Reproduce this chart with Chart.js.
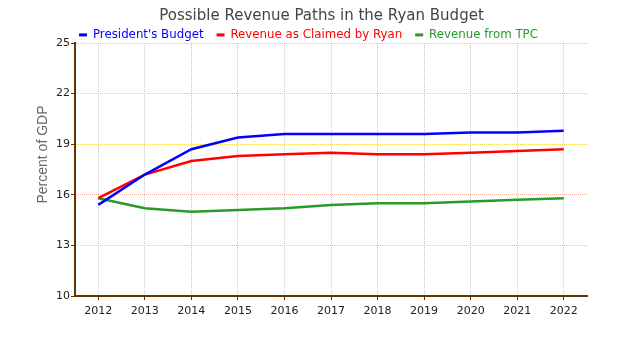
<!DOCTYPE html>
<html>
<head>
<meta charset="utf-8">
<script src="https://cdn.jsdelivr.net/npm/chart.js@4/dist/chart.umd.min.js"></script>
<style>
  html, body { margin: 0; padding: 0; background: #ffffff; }
  #wrap { width: 624px; height: 347px; }
</style>
</head>
<body>
<div id="wrap"><canvas id="c" width="624" height="347"></canvas></div>
<script>
// Revenue as percent of GDP, fiscal years 2012-2022
const years = [2012, 2013, 2014, 2015, 2016, 2017, 2018, 2019, 2020, 2021, 2022];
const presidentsBudget = [15.4, 17.2, 18.7, 19.4, 19.6, 19.6, 19.6, 19.6, 19.7, 19.7, 19.8];
const claimedByRyan    = [15.8, 17.2, 18.0, 18.3, 18.4, 18.5, 18.4, 18.4, 18.5, 18.6, 18.7];
const revenueFromTPC   = [15.8, 15.2, 15.0, 15.1, 15.2, 15.4, 15.5, 15.5, 15.6, 15.7, 15.8];
const yTicks = [10, 13, 16, 19, 22, 25];

const seriesNames  = ["President's Budget", "Revenue as Claimed by Ryan", "Revenue from TPC"];
const seriesColors = ['#0000ff', '#ff0000', '#2a9a2a'];
const yAxisTitle = 'Percent of GDP';

const toPoints = vals => vals.map((v, i) => ({ x: years[i], y: v }));

const gridYellow = '#ecd250';
const gridPink = '#f4ae9e';
const pinkYears = [2014, 2015, 2018, 2019, 2020];
const axisBrown = '#663300';

// Header layout: fixed band heights for title and legend, plus a sideways nudge
const header = {
  id: 'header',
  beforeLayout(chart) {
    if (chart.$headerPatched) return;
    chart.$headerPatched = true;
    const adjust = (box, dx, h) => {
      if (!box || typeof box.update !== 'function' || typeof box.draw !== 'function') return;
      const update = box.update.bind(box);
      box.update = function (...args) {
        const r = update(...args);
        this.height = h;
        return r;
      };
      const draw = box.draw.bind(box);
      box.draw = function (...args) {
        const ctx = this.ctx;
        ctx.save();
        ctx.translate(dx, 0);
        const r = draw(...args);
        ctx.restore();
        return r;
      };
    };
    adjust(chart.titleBlock, 28, 16);
    adjust(chart.legend, 15, 27);
  }
};

// Vertical axis caption, set a little above the middle of the plot
const yCaption = {
  id: 'yCaption',
  afterDraw(chart) {
    const ctx = chart.ctx;
    const area = chart.chartArea;
    ctx.save();
    ctx.translate(43.5, (area.top + area.bottom) / 2 - 15);
    ctx.rotate(-Math.PI / 2);
    ctx.fillStyle = '#666666';
    ctx.font = '14px "Liberation Sans"';
    ctx.textAlign = 'center';
    ctx.textBaseline = 'middle';
    ctx.fillText(yAxisTitle, 0, 0);
    ctx.restore();
  }
};

new Chart(document.getElementById('c'), {
  type: 'line',
  data: {
    datasets: [presidentsBudget, claimedByRyan, revenueFromTPC].map((vals, i) => ({
      label: seriesNames[i],
      data: toPoints(vals),
      borderColor: seriesColors[i],
      backgroundColor: seriesColors[i],
      borderWidth: 2.5,
      pointRadius: 0,
      pointHoverRadius: 0,
      tension: 0,
      fill: false
    }))
  },
  plugins: [header, yCaption],
  options: {
    responsive: false,
    animation: false,
    events: [],
    layout: { padding: { left: 0, right: 37, top: 0, bottom: 0 } },
    plugins: {
      title: {
        display: true,
        text: 'Possible Revenue Paths in the Ryan Budget',
        color: '#444444',
        font: { family: 'DejaVu Sans', size: 15, weight: 'normal' },
        padding: { top: 7, bottom: 0 }
      },
      legend: {
        display: true,
        position: 'top',
        labels: {
          font: { family: 'DejaVu Sans', size: 11.8 },
          boxWidth: 8,
          boxHeight: 3,
          padding: 13,
          generateLabels(chart) {
            return chart.data.datasets.map((ds, i) => ({
              text: ds.label,
              fillStyle: ds.borderColor,
              strokeStyle: ds.borderColor,
              lineWidth: 0,
              fontColor: ds.borderColor,
              hidden: false,
              datasetIndex: i
            }));
          }
        }
      },
      tooltip: { enabled: false }
    },
    scales: {
      x: {
        type: 'linear',
        min: 2011.5,
        max: 2022.5,
        afterBuildTicks(scale) { scale.ticks = years.map(v => ({ value: v })); },
        afterFit(scale) { scale.height = 51; },
        ticks: {
          color: '#222222',
          font: { family: 'DejaVu Sans', size: 11 },
          padding: 5,
          maxRotation: 0,
          callback: v => String(v)
        },
        grid: {
          color: ctx => (ctx.tick && pinkYears.includes(ctx.tick.value)) ? gridPink : gridYellow,
          lineWidth: 1,
          tickColor: axisBrown,
          tickLength: 4,
          tickWidth: 1,
          tickBorderDash: [],
          drawOnChartArea: true
        },
        border: { display: true, color: axisBrown, width: 2, dash: [1, 1] }
      },
      y: {
        type: 'linear',
        min: 10,
        max: 25,
        afterBuildTicks(scale) { scale.ticks = yTicks.map(v => ({ value: v })); },
        afterFit(scale) { scale.width = 75; },
        ticks: {
          color: '#222222',
          font: { family: 'DejaVu Sans', size: 11 },
          padding: 1
        },
        grid: {
          color: ctx => (ctx.tick && ctx.tick.value === 16) ? gridPink : gridYellow,
          lineWidth: 1,
          tickColor: axisBrown,
          tickLength: 4,
          tickWidth: 1,
          tickBorderDash: []
        },
        border: { display: true, color: axisBrown, width: 2, dash: [1, 1] }
      }
    }
  }
});
</script>
</body>
</html>
